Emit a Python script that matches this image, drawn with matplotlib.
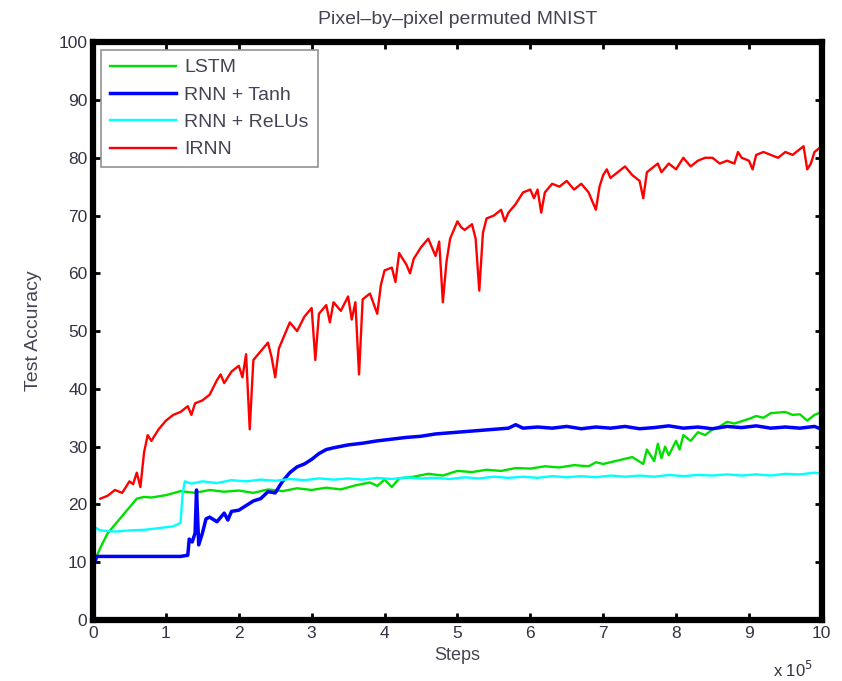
import matplotlib
matplotlib.use("Agg")
import matplotlib.pyplot as plt

# steps are in units of 1e5
red_x = [0.10, 0.20, 0.30, 0.40, 0.50, 0.55, 0.60, 0.65, 0.70, 0.75, 0.80, 0.90,
         1.00, 1.10, 1.20, 1.30, 1.35, 1.40, 1.50, 1.60, 1.70, 1.75, 1.80, 1.90,
         2.00, 2.05, 2.10, 2.15, 2.20, 2.30, 2.40, 2.45, 2.50, 2.55, 2.60, 2.70,
         2.80, 2.90, 3.00, 3.05, 3.10, 3.20, 3.25, 3.30, 3.40, 3.50, 3.55, 3.60,
         3.65, 3.70, 3.80, 3.90, 3.95, 4.00, 4.10, 4.15, 4.20, 4.30, 4.35, 4.40,
         4.50, 4.60, 4.70, 4.75, 4.80, 4.85, 4.90, 5.00, 5.05, 5.10, 5.20, 5.25,
         5.30, 5.35, 5.40, 5.50, 5.60, 5.65, 5.70, 5.80, 5.90, 6.00, 6.05, 6.10,
         6.15, 6.20, 6.30, 6.40, 6.50, 6.60, 6.70, 6.80, 6.85, 6.90, 6.95, 7.00,
         7.05, 7.10, 7.20, 7.30, 7.40, 7.50, 7.55, 7.60, 7.70, 7.75, 7.80, 7.90,
         8.00, 8.10, 8.20, 8.30, 8.40, 8.50, 8.60, 8.70, 8.80, 8.85, 8.90, 9.00,
         9.05, 9.10, 9.20, 9.30, 9.40, 9.50, 9.60, 9.70, 9.75, 9.80, 9.85, 9.90,
         10.0]
red_y = [21.0, 21.5, 22.5, 22.0, 24.0, 23.5, 25.5, 23.0, 29.0, 32.0, 31.0, 33.0,
         34.5, 35.5, 36.0, 37.0, 35.5, 37.5, 38.0, 39.0, 41.5, 42.5, 41.0, 43.0,
         44.0, 42.0, 46.0, 33.0, 45.0, 46.5, 48.0, 45.5, 42.0, 47.0, 48.5, 51.5,
         50.0, 52.5, 54.0, 45.0, 53.0, 54.5, 51.5, 55.0, 53.5, 56.0, 52.0, 55.0,
         42.5, 55.5, 56.5, 53.0, 58.0, 60.5, 61.0, 58.5, 63.5, 61.5, 60.0, 62.5,
         64.5, 66.0, 63.0, 65.5, 55.0, 62.0, 66.0, 69.0, 68.0, 67.5, 68.5, 66.0,
         57.0, 67.0, 69.5, 70.0, 71.0, 69.0, 70.5, 72.0, 74.0, 74.5, 73.0, 74.5,
         70.5, 74.0, 75.5, 75.0, 76.0, 74.5, 75.5, 74.0, 72.5, 71.0, 75.0, 77.0,
         78.0, 76.5, 77.5, 78.5, 77.0, 76.0, 73.0, 77.5, 78.5, 79.0, 77.5, 79.0,
         78.0, 80.0, 78.5, 79.5, 80.0, 80.0, 79.0, 79.5, 79.0, 81.0, 80.0, 79.5,
         78.0, 80.5, 81.0, 80.5, 80.0, 81.0, 80.5, 81.5, 82.0, 78.0, 79.0, 81.0,
         82.0]

green_x = [0.00, 0.10, 0.20, 0.30, 0.40, 0.50, 0.60, 0.70, 0.80, 1.00, 1.20, 1.40,
           1.60, 1.80, 2.00, 2.20, 2.40, 2.60, 2.80, 3.00, 3.20, 3.40, 3.60, 3.80,
           3.90, 4.00, 4.10, 4.20, 4.40, 4.60, 4.80, 5.00, 5.20, 5.40, 5.60, 5.80,
           6.00, 6.20, 6.40, 6.60, 6.80, 6.90, 7.00, 7.20, 7.40, 7.55, 7.60, 7.70,
           7.75, 7.80, 7.85, 7.90, 8.00, 8.05, 8.10, 8.20, 8.30, 8.40, 8.50, 8.60,
           8.70, 8.80, 9.00, 9.10, 9.20, 9.30, 9.50, 9.60, 9.70, 9.80, 9.90, 10.0]
green_y = [9.5, 12.5, 15.0, 16.5, 18.0, 19.5, 21.0, 21.3, 21.2, 21.6, 22.3, 22.0,
           22.5, 22.2, 22.4, 22.0, 22.6, 22.3, 22.8, 22.5, 22.9, 22.6, 23.3, 23.8,
           23.2, 24.3, 23.0, 24.5, 24.8, 25.3, 25.0, 25.8, 25.6, 26.0, 25.8, 26.3,
           26.2, 26.6, 26.4, 26.8, 26.6, 27.3, 27.0, 27.6, 28.2, 27.0, 29.5, 27.5,
           30.5, 28.0, 30.0, 28.5, 31.0, 29.5, 32.0, 31.0, 32.5, 32.0, 33.0, 33.5,
           34.3, 34.0, 34.8, 35.3, 35.0, 35.8, 36.0, 35.5, 35.6, 34.5, 35.5, 36.0]

blue_x = [0.00, 0.05, 0.30, 0.60, 0.90, 1.20, 1.30, 1.32, 1.36, 1.40, 1.42, 1.45,
          1.50, 1.55, 1.60, 1.70, 1.80, 1.85, 1.90, 2.00, 2.10, 2.20, 2.30, 2.40,
          2.50, 2.60, 2.70, 2.80, 2.90, 3.00, 3.10, 3.20, 3.30, 3.50, 3.70, 3.90,
          4.10, 4.30, 4.50, 4.70, 4.90, 5.10, 5.30, 5.50, 5.70, 5.80, 5.90, 6.10,
          6.30, 6.50, 6.70, 6.90, 7.10, 7.30, 7.50, 7.70, 7.90, 8.10, 8.30, 8.50,
          8.70, 8.90, 9.10, 9.30, 9.50, 9.70, 9.90, 10.0]
blue_y = [9.0, 11.0, 11.0, 11.0, 11.0, 11.0, 11.2, 14.0, 13.5, 15.0, 22.5, 13.0,
          15.0, 17.5, 17.8, 17.0, 18.5, 17.3, 18.8, 19.0, 19.8, 20.6, 21.0, 22.2,
          22.0, 24.0, 25.5, 26.5, 27.0, 27.8, 28.8, 29.5, 29.8, 30.3, 30.6, 31.0,
          31.3, 31.6, 31.8, 32.2, 32.4, 32.6, 32.8, 33.0, 33.2, 33.8, 33.2, 33.4,
          33.2, 33.5, 33.1, 33.4, 33.2, 33.5, 33.1, 33.3, 33.6, 33.2, 33.4, 33.1,
          33.5, 33.3, 33.6, 33.2, 33.4, 33.2, 33.5, 33.0]

cyan_x = [0.00, 0.03, 0.10, 0.30, 0.50, 0.70, 0.90, 1.10, 1.20, 1.23, 1.26, 1.35,
          1.50, 1.70, 1.90, 2.10, 2.30, 2.50, 2.70, 2.90, 3.10, 3.30, 3.50, 3.70,
          3.90, 4.10, 4.30, 4.50, 4.70, 4.90, 5.10, 5.30, 5.50, 5.70, 5.90, 6.10,
          6.30, 6.50, 6.70, 6.90, 7.10, 7.30, 7.50, 7.70, 7.90, 8.10, 8.30, 8.50,
          8.70, 8.90, 9.10, 9.30, 9.50, 9.70, 9.90, 10.0]
cyan_y = [9.0, 16.0, 15.5, 15.3, 15.5, 15.6, 15.9, 16.2, 16.8, 22.0, 24.0, 23.6,
          24.0, 23.7, 24.2, 24.0, 24.3, 24.1, 24.4, 24.2, 24.5, 24.3, 24.5, 24.3,
          24.6, 24.4, 24.7, 24.5, 24.6, 24.4, 24.7, 24.5, 24.8, 24.6, 24.8, 24.6,
          24.9, 24.7, 24.9, 24.7, 25.0, 24.8, 25.0, 24.8, 25.1, 24.9, 25.1, 25.0,
          25.2, 25.0, 25.2, 25.0, 25.3, 25.2, 25.5, 25.3]

plt.rcParams['font.family'] = ['Liberation Sans', 'DejaVu Sans']

fig = plt.figure(figsize=(8.42, 6.81), dpi=100)
ax = fig.add_axes([0.1105, 0.0896, 0.8655, 0.8484])

ax.plot(green_x, green_y, color='#00e000', lw=1.7, label='LSTM')
ax.plot(blue_x, blue_y, color='#0000ff', lw=2.5, label='RNN + Tanh')
ax.plot(cyan_x, cyan_y, color='#00ffff', lw=1.7, label='RNN + ReLUs')
ax.plot(red_x, red_y, color='#ff0000', lw=1.7, label='IRNN')

ax.set_xlim(0, 10)
ax.set_ylim(0, 100)
ax.set_xticks(range(0, 11))
ax.set_yticks(range(0, 101, 10))
ax.tick_params(direction='in', length=5, width=2, top=True, right=True,
               labelsize=12.5, colors='black', labelcolor='#333344', pad=4)
for s in ax.spines.values():
    s.set_linewidth(4.5)
    s.set_color('black')

ax.set_title('Pixel\u2013by\u2013pixel permuted MNIST', fontsize=14, color='#444455', pad=13)
ax.set_xlabel('Steps', fontsize=13, color='#444455', labelpad=5)
ax.set_ylabel('Test Accuracy', fontsize=14, color='#444455', labelpad=12)
fig.text(0.918, 0.006, r'x 10$^5$', fontsize=12, color='#333344')

leg = ax.legend(loc='upper left', fontsize=14, frameon=True, fancybox=False,
                borderaxespad=0.4, handlelength=3.4, handletextpad=0.45,
                labelspacing=0.5, borderpad=0.45)
leg.get_frame().set_edgecolor('#777777')
leg.get_frame().set_linewidth(1.2)
for t in leg.get_texts():
    t.set_color('#444455')

fig.savefig('out.png', dpi=100)
